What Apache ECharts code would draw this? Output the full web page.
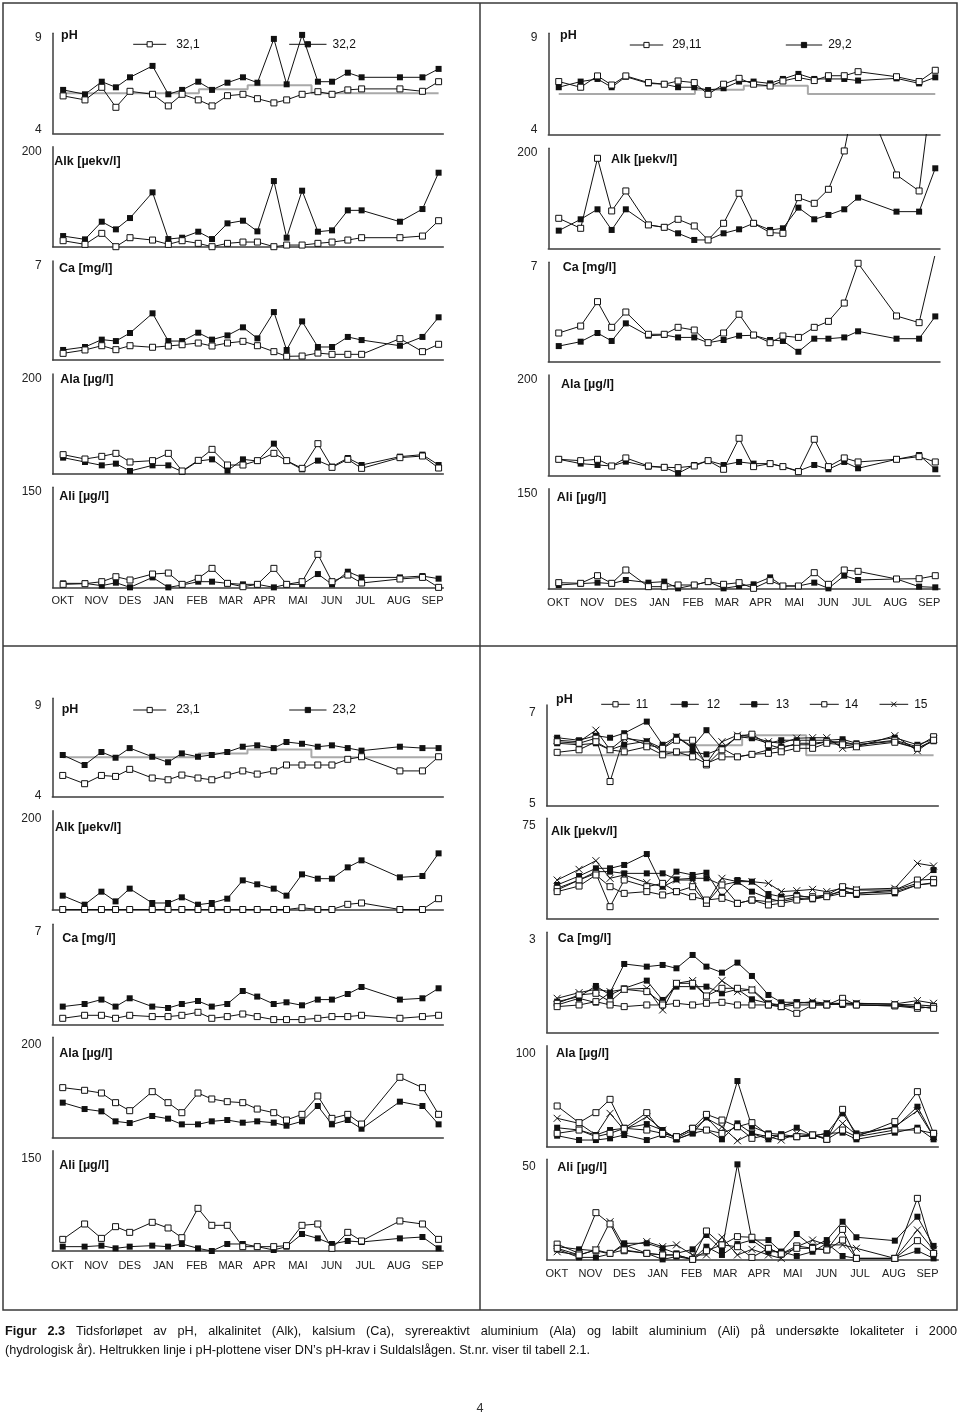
<!DOCTYPE html>
<html>
<head>
<meta charset="utf-8">
<script src="https://cdn.jsdelivr.net/npm/echarts@6.0.0/dist/echarts.min.js"></script>
<style>
html,body{margin:0;padding:0;background:#ffffff;}
#chart{width:960px;height:1417px;}
</style>
</head>
<body>
<div id="chart"></div>
<script>
// ---------------- DATA ----------------
const months = ['OKT','NOV','DES','JAN','FEB','MAR','APR','MAI','JUN','JUL','AUG','SEP'];
const monthTicks = [0,1,2,3,4,5,6,7,8,9,10,11];
// sampling dates (in month-label units, OKT = 0)
const sampleDates = [0.01,0.66,1.16,1.58,2.0,2.67,3.14,3.55,4.03,4.44,4.90,5.36,5.79,6.28,6.66,7.12,7.59,8.01,8.48,8.89,10.03,10.70,11.18];
// DN's pH requirement (step line)
const dnStepX = [0.01,4.05,5.5,7.4,11.18];
const dnStepPH = [6.0,6.2,6.4,6.0,6.0];
// y-axis ranges (tick labels shown: min for pH, max for all)
const yRangesMain = [[4,9],[0,200],[0,7],[0,200],[0,150]];
const yRangesBR = [[5,7],[0,75],[0,3],[0,100],[0,50]];

// Station 32,1 / 32,2
const ph321 = [5.87,5.67,6.3,5.3,6.1,5.95,5.37,5.95,5.67,5.37,5.88,5.95,5.73,5.52,5.67,5.95,6.08,5.95,6.17,6.22,6.22,6.1,6.58];
const ph322 = [6.17,5.95,6.58,6.3,6.8,7.37,5.95,6.17,6.58,6.17,6.53,6.8,6.53,8.72,6.45,8.92,6.58,6.58,7.03,6.8,6.8,6.8,7.22];
const alk321 = [12,4.7,26.7,0,18,13.3,4.7,12,6.7,0,6.7,9.3,9.3,0,3.3,3.3,6.7,9.3,13.3,18,18,21.3,52];
const alk322 = [21.3,14.7,50,34.7,57.3,108.7,15.3,18,30,15.3,46.7,52,30.7,131.3,18,112,30,32.7,72.7,72.7,50,75.3,148];
const ca321 = [0.47,0.71,1.01,0.73,1.01,0.9,0.99,1.08,1.2,0.99,1.2,1.32,1.01,0.59,0.26,0.28,0.49,0.4,0.4,0.4,1.51,0.59,1.11];
const ca322 = [0.71,0.92,1.44,1.34,1.91,3.3,1.34,1.34,1.93,1.44,1.74,2.31,1.53,3.39,0.71,2.73,0.92,0.92,1.63,1.41,1.01,1.63,3.02];
const ala321 = [38.7,30,35.3,41.3,24,26.7,41.3,6,27.3,49.3,18,18,26.7,41.3,26.7,11.3,60.7,13.3,29.3,11.3,32.7,36,12];
const ala322 = [32.7,24,17.3,20.7,6,17.3,17.3,4.7,26,29.3,6.7,29.3,26,60.7,26,9.3,26.7,14.7,32,18,34.7,38.7,18];
const ali321 = [5,6,9,16.4,11.5,20.4,21.9,5,14,28.9,6.5,1.5,5,28.9,5,9,49.8,9,18.9,7,13,15.4,0.5];
const ali322 = [6.5,6.5,3,7.5,0.5,15.4,0.5,4,9,9,6.5,5,5,0.5,5,5,20.4,5,23.9,15.4,15.4,17.4,13.5];

// Station 29,11 / 29,2
const ph2911 = [6.61,6.33,6.89,6.44,6.89,6.56,6.48,6.64,6.56,5.98,6.48,6.77,6.48,6.39,6.64,6.81,6.66,6.9,6.9,7.1,6.85,6.61,7.17];
const ph292 = [6.33,6.61,6.74,6.33,6.85,6.52,6.48,6.33,6.33,6.19,6.28,6.61,6.61,6.52,6.74,6.99,6.74,6.74,6.74,6.66,6.77,6.52,6.82];
const alk2911 = [60,40,180,74.7,114.7,46.7,42,58,44.7,16.7,50,110,50,31.3,30,101.3,90,118,194.7,335,146.7,114.7,370];
const alk292 = [35.3,58,78,36.7,78,46.7,42,30,16.7,16.7,30,38,50,36.7,40,81.3,58,66.7,78,101.3,73.3,73.3,160];
const ca2911 = [2.02,2.51,4.23,2.42,3.5,1.93,1.93,2.42,2.23,1.34,2.02,3.34,1.88,1.34,1.81,1.71,2.42,2.84,4.13,6.93,3.22,2.75,7.6];
const ca292 = [1.1,1.41,2.02,1.46,2.7,1.83,1.88,1.71,1.71,1.34,1.53,1.83,1.86,1.53,1.46,0.7,1.62,1.62,1.71,2.14,1.62,1.62,3.19];
const ala2911 = [31.9,29.2,31.9,18.6,34.6,18.6,15.9,15.3,18.6,29.2,12,73.8,17.3,23.3,17.3,7.3,71.8,17.3,34.6,26.6,31.9,37.2,26.6];
const ala292 = [31.9,23.3,20.6,18.6,27.2,17.3,15.9,4,20.6,29.2,20.6,26.6,23.3,23.3,17.3,8.6,20.6,12,26.6,14,31.9,40.5,12];
const ali2911 = [9.5,8.5,19.9,8.5,28.4,3.5,3.5,6,6,11,7,9.5,1,12.5,4.5,4.5,24.4,7,28.4,26.4,15,15.4,19.9];
const ali292 = [6,8,9.5,8,13.5,9.5,11,1,6,11,1,4.5,7,17.4,4.5,4.5,9.5,1,19.9,13.5,15,3.5,2.5];

// Station 23,1 / 23,2
const ph231 = [5.08,4.66,5.08,5.03,5.39,4.95,4.86,5.1,4.95,4.86,5.1,5.31,5.15,5.31,5.61,5.61,5.61,5.61,5.9,6.03,5.31,5.31,6.03];
const ph232 = [6.12,5.61,6.27,5.98,6.47,6.03,5.75,6.2,6.03,6.12,6.27,6.54,6.61,6.47,6.78,6.69,6.54,6.61,6.47,6.34,6.54,6.47,6.47];
const alk231 = [1,1,1,1,1,1,1,1,1,1,1,1,1,1,1,4.7,1,1,11.4,14.1,1,1,22.8];
const alk232 = [28.9,10.7,36.9,17.4,43,14.1,14.1,25.5,10.7,14.1,22.8,59.7,51.7,43,28.9,71.8,63.1,63.1,85.9,100,65.8,68.5,114.1];
const ca231 = [0.42,0.63,0.63,0.42,0.63,0.54,0.54,0.63,0.84,0.42,0.54,0.72,0.54,0.33,0.33,0.33,0.42,0.54,0.54,0.63,0.42,0.54,0.63];
const ca232 = [1.24,1.42,1.73,1.24,1.82,1.24,1.14,1.42,1.63,1.24,1.42,2.33,1.94,1.42,1.54,1.33,1.73,1.73,2.12,2.61,1.73,1.82,2.52];
const ala231 = [99.7,94.4,89,69.8,53.8,91.7,69.8,49.8,89,77.1,71.8,69.8,57.1,49.8,35.2,46.5,83.1,38.5,46.5,27.2,120.3,99.7,46.5];
const ala232 = [69.8,57.1,52.5,32.6,29.2,43.2,37.9,26.6,26.6,32.6,35.2,29.9,32.6,29.9,23.9,32.6,63.1,26.6,35.2,17.9,71.8,63.1,26.6];
const ali231 = [17.4,40.4,18.9,36.4,27.9,42.9,34.4,19.9,63.8,38.4,38.4,6.5,6.5,6.5,8,38.4,40.4,4,27.9,15,44.9,40.4,17.4];
const ali232 = [6.5,6.5,8,4,6.5,8,6.5,10.5,4,0,10.5,10.5,6.5,1.5,6.5,25.4,18.9,10.5,15,13.5,18.9,20.9,4];

// Stations 11-15
const ph11 = [6.27,6.24,6.34,5.48,6.37,6.21,6.14,6.30,6.30,5.81,6.11,6.37,6.42,6.21,6.14,6.24,6.24,6.27,6.24,6.21,6.30,6.17,6.37];
const ph12 = [6.35,6.30,6.39,6.35,6.44,6.67,6.21,6.37,6.17,6.50,6.14,6.37,6.34,6.24,6.30,6.30,6.30,6.30,6.32,6.24,6.35,6.21,6.32];
const ph13 = [6.24,6.21,6.24,6.11,6.21,6.28,6.07,6.06,6.07,6.02,6.14,5.97,6.02,6.11,6.17,6.21,6.21,6.27,6.27,6.21,6.28,6.14,6.28];
const ph14 = [6.06,6.11,6.27,6.11,6.07,6.17,6.01,6.07,5.97,5.84,5.97,5.97,6.02,6.04,6.07,6.14,6.14,6.24,6.21,6.17,6.26,6.14,6.30];
const ph15 = [6.30,6.27,6.50,6.11,6.34,6.28,6.14,6.37,6.14,5.84,6.27,6.40,6.37,6.27,6.24,6.34,6.35,6.35,6.14,6.17,6.39,6.09,6.32];
const alk11 = [22.5,28.7,33.7,8.7,28.7,23.7,26.2,20.0,23.7,11.2,25.0,11.2,13.7,12.5,13.7,16.2,16.2,17.5,23.7,21.2,21.2,28.7,29.2];
const alk12 = [25.0,31.7,37.5,37.5,40.0,48.2,23.7,35.0,32.5,34.2,16.2,28.7,27.5,18.2,16.2,17.5,15.0,17.5,20.0,18.7,21.2,26.2,36.2];
const alk13 = [21.2,28.7,35.0,35.0,33.7,33.7,33.7,29.2,30.0,30.0,25.0,27.5,20.0,15.0,12.5,15.0,14.2,16.2,21.2,17.5,18.7,25.0,26.2];
const alk14 = [20.0,24.2,32.5,23.7,18.7,20.0,17.5,20.0,16.2,13.7,15.0,11.2,13.7,10.0,11.2,13.7,15.0,16.2,18.7,18.7,20.0,25.0,26.7];
const alk15 = [28.7,36.7,43.2,30.0,32.5,26.7,23.7,28.7,28.7,11.2,30.0,27.5,27.5,26.2,20.0,20.7,21.7,20.0,22.5,21.7,22.5,41.2,39.2];
const ca11 = [0.87,1.12,1.17,0.92,1.29,1.22,0.87,1.47,1.47,1.09,1.32,1.32,1.27,0.82,0.77,0.57,0.82,0.82,1.02,0.82,0.79,0.72,0.77];
const ca12 = [0.82,1.02,0.89,1.19,2.05,1.97,2.02,1.92,2.32,1.97,1.79,2.09,1.69,1.12,0.90,0.90,0.89,0.82,0.87,0.87,0.84,0.82,0.79];
const ca13 = [0.92,1.07,1.39,1.12,1.32,1.55,0.97,1.37,1.37,1.37,1.17,1.29,0.99,0.87,0.79,0.90,0.87,0.87,0.82,0.82,0.79,0.77,0.72];
const ca14 = [0.77,0.82,0.92,0.82,0.77,0.82,0.82,0.87,0.82,0.87,0.90,0.82,0.82,0.82,0.77,0.82,0.82,0.82,0.87,0.82,0.82,0.77,0.72];
const ca15 = [1.02,1.19,1.29,1.22,1.29,1.32,0.67,1.47,1.55,1.09,1.55,1.22,1.29,0.87,0.82,0.87,0.92,0.87,0.87,0.87,0.85,0.95,0.87];
const ala11 = [40.3,23.8,33.7,46.9,18.2,33.7,13.2,9.9,18.2,32.0,26.4,19.8,23.8,11.6,9.9,9.9,11.6,7.3,37.0,9.9,24.8,54.5,13.2];
const ala12 = [18.8,16.5,11.6,16.5,18.2,22.4,16.5,7.3,13.2,29.0,13.2,65.0,19.8,13.2,12.2,18.8,10.6,13.2,33.0,13.2,18.8,39.6,9.9];
const ala13 = [10.9,6.6,6.6,8.3,11.6,6.6,11.6,7.3,13.2,16.5,7.3,23.1,13.2,7.3,12.2,9.9,10.6,13.2,13.9,7.3,13.9,18.8,7.3];
const ala14 = [13.2,16.5,9.9,13.2,18.2,16.5,13.2,9.9,18.2,16.5,13.2,19.8,8.3,11.6,9.9,9.9,11.6,7.3,16.5,9.9,16.5,16.5,13.2];
const ala15 = [28.1,23.1,11.6,33.0,16.5,29.7,16.5,8.3,16.5,28.1,19.8,5.9,13.2,9.9,6.6,13.2,11.6,8.3,23.1,11.6,19.8,35.6,9.9];
const ali11 = [7.9,3.3,23.5,17.9,4.6,3.3,2.5,2.5,0.3,14.4,7.5,11.6,11.3,5.8,3.0,7.0,5.8,5.0,15.2,0.8,0.8,30.6,3.3];
const ali12 = [6.6,5.3,4.6,3.0,8.3,8.3,5.8,3.3,5.3,12.4,5.0,47.5,9.9,9.9,4.1,12.9,6.6,9.9,19.0,11.3,9.6,21.5,7.0];
const ali13 = [5.3,1.3,1.3,3.0,7.5,3.3,0.3,1.7,0.3,6.6,2.5,7.9,9.9,4.1,4.1,2.0,4.1,8.3,2.0,0.8,0.8,4.6,0.8];
const ali14 = [5.8,2.5,5.0,3.3,5.0,3.3,2.5,2.5,0.3,4.6,7.5,6.6,1.3,5.8,3.0,5.8,5.8,5.0,9.9,0.8,0.8,9.6,3.3];
const ali15 = [4.1,2.5,5.0,19.0,6.6,9.1,6.6,7.5,2.5,2.5,11.3,2.5,5.3,2.5,0.8,6.6,9.9,7.5,7.5,5.8,0.8,14.9,5.0];

const subTitles = ['pH','Alk [µekv/l]','Ca [mg/l]','Ala [µg/l]','Ali [µg/l]'];
const captionLine1 = 'Figur 2.3 Tidsforløpet av pH, alkalinitet (Alk), kalsium (Ca), syrereaktivt aluminium (Ala) og labilt aluminium (Ali) på undersøkte lokaliteter i 2000';
const captionLine2 = '(hydrologisk år). Heltrukken linje i pH-plottene viser DN\u2019s pH-krav i Suldalslågen. St.nr. viser til tabell 2.1.';
const pageNumber = '4';

// ---------------- LAYOUT / STYLE ----------------
const FONT = '"Liberation Sans", Arial, Helvetica, sans-serif';
const INK = '#111111';
const AXIS = '#3c3c3c';
const X_MIN = -0.3, X_MAX = 11.32;
const SYMBOL = {open:'rect', filled:'rect', cross:'path://M0,0L10,10M10,0L0,10'};

const panels = [
  { left:52.7, right:443.3, monthMargin:8, dMax:4.5, dMin:4,
    axisTop:[33.3,146.7,261,374,487.3], axisBottom:[133.3,246.7,360,474,587.7],
    clipTop:[null,null,null,null,null], ranges:yRangesMain,
    titles:[[61,36],[54.3,161.7],[59,268.3],[60.3,379.3],[59.3,496.7]],
    stations:[{name:'32,1',mark:'open',data:[ph321,alk321,ca321,ala321,ali321]},
              {name:'32,2',mark:'filled',data:[ph322,alk322,ca322,ala322,ali322]}],
    legends:[{name:'32,1',x:132.7,y:44.3,w:33,pad:5},{name:'32,2',x:288.7,y:44.3,w:37.3,pad:1}] },
  { left:548.3, right:940, monthMargin:8.5, dMax:4.8, dMin:4.3,
    axisTop:[33.3,148.3,262.3,375,488.7], axisBottom:[134.3,248.3,361.7,475.3,589],
    clipTop:[null,134.6,256.5,null,null], ranges:yRangesMain,
    titles:[[560,36],[611,159.3],[562.7,267.3],[561,384.3],[556.7,497.3]],
    stations:[{name:'29,11',mark:'open',data:[ph2911,alk2911,ca2911,ala2911,ali2911]},
              {name:'29,2',mark:'filled',data:[ph292,alk292,ca292,ala292,ali292]}],
    legends:[{name:'29,11',x:629.3,y:45,w:33.4,pad:4},{name:'29,2',x:785.3,y:45,w:36.4,pad:1}] },
  { left:52.3, right:443.3, monthMargin:9, dMax:7.7, dMin:1,
    axisTop:[698.3,810.7,924.3,1037.3,1150.7], axisBottom:[796.7,910,1024.3,1137.7,1251],
    clipTop:[null,null,null,null,null], ranges:yRangesMain,
    titles:[[61.7,710],[55,827.3],[62.3,938.3],[59.3,1053.3],[59.3,1165.7]],
    stations:[{name:'23,1',mark:'open',data:[ph231,alk231,ca231,ala231,ali231]},
              {name:'23,2',mark:'filled',data:[ph232,alk232,ca232,ala232,ali232]}],
    legends:[{name:'23,1',x:132.7,y:710,w:33,pad:5},{name:'23,2',x:288.7,y:710,w:37.3,pad:1}] },
  { left:546.7, right:938.3, monthMargin:8.5, dMax:7.7, dMin:2.4,
    axisTop:[705,818.3,932.3,1045.7,1159.3], axisBottom:[805.7,918.3,1032.3,1146.7,1260],
    clipTop:[null,null,null,null,null], ranges:yRangesBR,
    titles:[[556,700],[551,831.7],[557.7,938.3],[556,1054],[557.3,1167.3]],
    stations:[{name:'11',mark:'open',data:[ph11,alk11,ca11,ala11,ali11]},
              {name:'14',mark:'open',data:[ph14,alk14,ca14,ala14,ali14]},
              {name:'13',mark:'filled',data:[ph13,alk13,ca13,ala13,ali13]},
              {name:'12',mark:'filled',data:[ph12,alk12,ca12,ala12,ali12]},
              {name:'15',mark:'cross',data:[ph15,alk15,ca15,ala15,ali15]}],
    legends:[{name:'11',x:600.7,y:704.3,w:28.6,pad:1},{name:'12',x:670,y:704.3,w:28.3,pad:3},
             {name:'13',x:739.3,y:704.3,w:29,pad:2},{name:'14',x:809.3,y:704.3,w:29,pad:1},
             {name:'15',x:879,y:704.3,w:28.7,pad:1}] }
];

const grids = [], xAxis = [], yAxis = [], series = [], legend = [], graphic = [];

panels.forEach(p => {
  const w = p.right - p.left;
  for (let s = 0; s < 5; s++) {
    const A = p.axisTop[s], B = p.axisBottom[s];
    const lo = p.ranges[s][0], hi = p.ranges[s][1];
    // visible axes grid
    const gi = grids.length;
    grids.push({left:p.left, top:A, width:w, height:B - A});
    xAxis.push({gridIndex:gi, type:'value', min:X_MIN, max:X_MAX,
      axisLine:{show:true, onZero:false, lineStyle:{color:AXIS, width:1.5}},
      axisTick:{show:false}, splitLine:{show:false},
      axisLabel: s === 4 ? {show:true, customValues:monthTicks, formatter:v => months[Math.round(v)],
        margin:p.monthMargin, fontFamily:FONT, fontSize:11, color:'#222'} : {show:false}});
    const rich = {
      t:{padding:[2*p.dMax,0,0,0], fontFamily:FONT, fontSize:12, color:'#222'},
      b:{padding:[0,0,2*p.dMin,0], fontFamily:FONT, fontSize:12, color:'#222'}
    };
    yAxis.push({gridIndex:gi, type:'value', min:lo, max:hi,
      axisLine:{show:true, onZero:false, lineStyle:{color:AXIS, width:1.5}},
      axisTick:{show:false}, splitLine:{show:false},
      axisLabel:{show:true, customValues: s === 0 ? [lo, hi] : [hi], margin:11,
        fontFamily:FONT, fontSize:12, color:'#222',
        formatter: v => (v === hi ? '{t|' : '{b|') + v + '}', rich:rich}});
    // data grid (same scale, taller clip area)
    const cT = p.clipTop[s] != null ? p.clipTop[s] : A - 6;
    const gd = grids.length;
    grids.push({left:p.left, top:cT, width:w, height:B - cT});
    xAxis.push({gridIndex:gd, type:'value', min:X_MIN, max:X_MAX, show:false});
    yAxis.push({gridIndex:gd, type:'value', min:lo, max:lo + (hi - lo) * (B - cT) / (B - A), show:false});
    if (s === 0) {
      series.push({type:'line', name:'DN pH-krav', xAxisIndex:gd, yAxisIndex:gd, step:'end',
        data:dnStepX.map((x, i) => [x, dnStepPH[i]]), symbol:'none', silent:true, animation:false,
        lineStyle:{color:'#a9a9a9', width:2}, z:1});
    }
    p.stations.forEach(st => {
      const isOpen = st.mark === 'open', isCross = st.mark === 'cross';
      series.push({type:'line', name:st.name, xAxisIndex:gd, yAxisIndex:gd,
        data:sampleDates.map((d, i) => [d, st.data[s][i]]),
        symbol:SYMBOL[st.mark], symbolSize:isCross ? 7 : 6, showSymbol:true, clip:true,
        animation:false, silent:true,
        lineStyle:{color:INK, width:1},
        itemStyle:{color:isOpen ? '#ffffff' : INK, borderColor:INK, borderWidth:st.mark === 'filled' ? 0 : 1},
        z:isOpen ? 4 : 3});
    });
    graphic.push({type:'text', x:p.titles[s][0], y:p.titles[s][1], silent:true,
      style:{text:subTitles[s], fontFamily:FONT, fontSize:12.5, fontWeight:'bold', fill:INK,
        align:'left', verticalAlign:'middle'}});
  }
  p.legends.forEach(l => {
    legend.push({data:[l.name], left:l.x, top:l.y - 6, padding:0, itemWidth:l.w, itemHeight:6.5,
      itemGap:0, selectedMode:false,
      itemStyle:{borderWidth:1},
      lineStyle:{width:1},
      textStyle:{fontFamily:FONT, fontSize:12, color:INK, padding:[0,0,0,l.pad]}});
  });
});

// table frame
graphic.push({type:'rect', silent:true, shape:{x:3, y:3, width:954, height:1307},
  style:{fill:'none', stroke:'#3a3a3a', lineWidth:1.5}});
graphic.push({type:'line', silent:true, shape:{x1:480, y1:3, x2:480, y2:1310},
  style:{stroke:'#3a3a3a', lineWidth:1.5}});
graphic.push({type:'line', silent:true, shape:{x1:3, y1:646, x2:957, y2:646},
  style:{stroke:'#3a3a3a', lineWidth:1.5}});

// caption (narrow, first line justified)
const CAP_SIZE = 13.5, CAP_LEFT = 5, CAP_RIGHT = 957, CAP_LINE2_END = 590;
const mctx = document.createElement('canvas').getContext('2d');
function measure(text, bold) {
  mctx.font = (bold ? 'bold ' : '') + CAP_SIZE + 'px "Liberation Sans"';
  return mctx.measureText(text).width;
}
const sx = (CAP_LINE2_END - CAP_LEFT) / measure(captionLine2, false);
const words = captionLine1.split(' ');
const ws = words.map((wd, i) => measure(wd, i < 2) * sx);
const gap = (CAP_RIGHT - CAP_LEFT - ws.reduce((a, b) => a + b, 0)) / (words.length - 1);
let cx = CAP_LEFT;
words.forEach((wd, i) => {
  graphic.push({type:'text', x:cx, y:1331, scaleX:sx, silent:true,
    style:{text:wd, fontFamily:'"Liberation Sans"', fontSize:CAP_SIZE, fontWeight:i < 2 ? 'bold' : 'normal',
      fill:INK, align:'left', verticalAlign:'middle'}});
  cx += ws[i] + gap;
});
graphic.push({type:'text', x:CAP_LEFT, y:1350, scaleX:sx, silent:true,
  style:{text:captionLine2, fontFamily:'"Liberation Sans"', fontSize:CAP_SIZE, fill:INK,
    align:'left', verticalAlign:'middle'}});
graphic.push({type:'text', x:480, y:1408, scaleX:sx, silent:true,
  style:{text:pageNumber, fontFamily:'"Liberation Sans"', fontSize:CAP_SIZE, fill:'#333',
    align:'center', verticalAlign:'middle'}});

const chart = echarts.init(document.getElementById('chart'), null, {renderer:'canvas', width:960, height:1417});
chart.setOption({
  backgroundColor:'#ffffff',
  animation:false,
  grid:grids, xAxis:xAxis, yAxis:yAxis, series:series, legend:legend, graphic:graphic
});
</script>
</body>
</html>
